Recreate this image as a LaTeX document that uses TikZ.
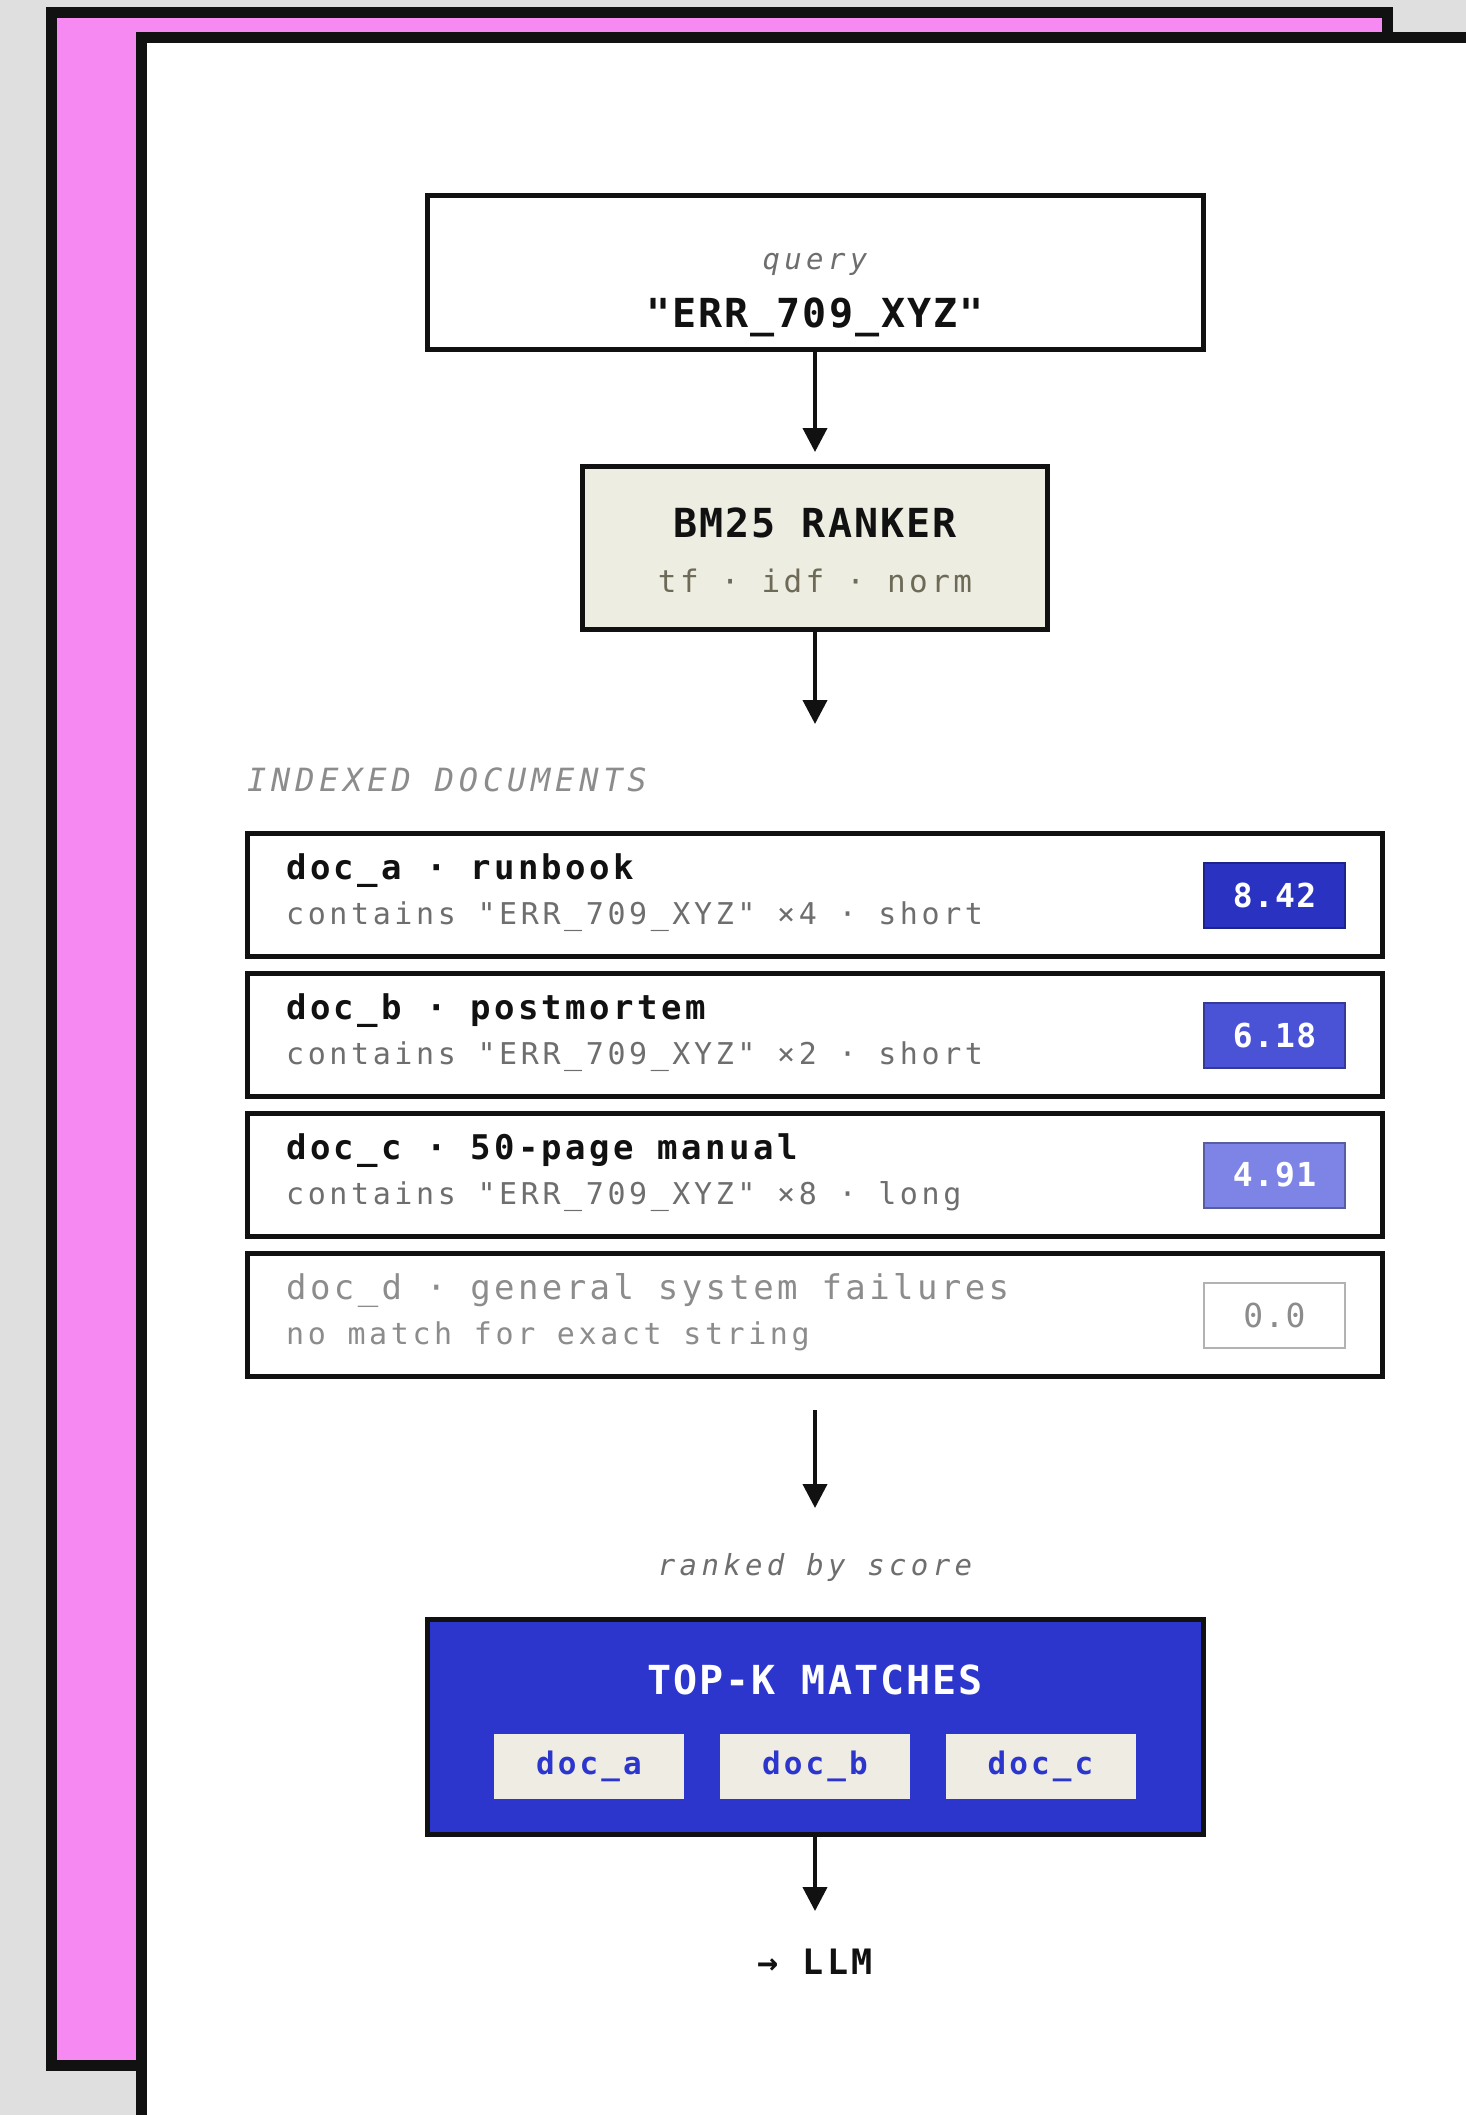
\documentclass[tikz,border=0pt]{standalone}
\usepackage{fontspec}
\usepackage{xcolor}
\usetikzlibrary{arrows.meta,positioning}
\setmonofont{DejaVu Sans Mono}
\newfontfamily\monohead[LetterSpace=5]{DejaVu Sans Mono}
\newfontfamily\monotitle[LetterSpace=10]{DejaVu Sans Mono}
\newfontfamily\monorow[LetterSpace=12]{DejaVu Sans Mono}
\newfontfamily\monowide[LetterSpace=15]{DejaVu Sans Mono}
\newfontfamily\monotag[LetterSpace=9]{DejaVu Sans Mono}
\newfontfamily\monoterm[LetterSpace=11]{DejaVu Sans Mono}
\newfontfamily\monotight[LetterSpace=4]{DejaVu Sans Mono}
\definecolor{canvas}{HTML}{DFDFDF}
\definecolor{shadow}{HTML}{F68AF2}
\definecolor{ink}{HTML}{111111}
\definecolor{muted}{HTML}{6E6E6E}
\definecolor{faint}{HTML}{8C8C8C}
\definecolor{paper}{HTML}{EEEDE1}
\definecolor{chip}{HTML}{EFEDE3}
\definecolor{brown}{HTML}{6E6A58}
\definecolor{topk}{HTML}{2D36CC}
\definecolor{scoreA}{HTML}{2A32C2}
\definecolor{scoreB}{HTML}{4A53D6}
\definecolor{scoreC}{HTML}{7D84E6}

\begin{document}
\begin{tikzpicture}[
    x=1pt, y=-1pt,
    box/.style={draw=ink, line width=5pt, fill=white, inner sep=0pt},
    rowbox/.style={box, minimum width=1135pt, minimum height=123pt},
    badge/.style={draw=#1!70!black, line width=2pt, fill=#1, minimum width=141pt, minimum height=65pt,
        inner sep=0pt, text=white, font=\monotight\bfseries\fontsize{33}{40}\selectfont},
    chipbox/.style={fill=chip, minimum width=190pt, minimum height=65pt, inner sep=0pt,
        text height=23pt, text depth=8pt, text=topk, font=\monotitle\bfseries\fontsize{31}{37}\selectfont},
    heading/.style={font=\monohead\bfseries\fontsize{40}{48}\selectfont, text=ink, inner sep=0pt},
    whisper/.style={font=\monowide\itshape\fontsize{29}{35}\selectfont, text=muted, inner sep=0pt},
    caption/.style={font=\monowide\itshape\fontsize{32}{38}\selectfont, text=faint, inner sep=0pt},
    rowtitle/.style={font=\monotitle\bfseries\fontsize{34}{41}\selectfont, text=ink, inner sep=0pt, anchor=base west},
    rowsub/.style={font=\monorow\fontsize{30}{36}\selectfont, text=muted, inner sep=0pt, anchor=base west},
    arrow/.style={-{Triangle[width=24pt,length=24pt]}, draw=ink, line width=4pt}
]

% Canvas: grey page, pink offset panel, white card (runs off right and bottom).
\useasboundingbox (0,0) rectangle (1466,2115);
\fill[canvas] (0,0) rectangle (1466,2115);
\draw[ink, line width=11pt, fill=shadow] (51.5,12.5) rectangle (1387.5,2065.5);
\draw[ink, line width=11pt, fill=white] (141.5,37.5) rectangle (1530,2200);

% Query.
\node[box, minimum width=776pt, minimum height=154pt] (query) at (815,272.5) {};
\node[whisper, anchor=base] (querytag) at (815,269) {query};
\node[heading, anchor=base] (querystr) at (815,327) {"ERR\_709\_XYZ"};

% Ranker.
\node[box, fill=paper, minimum width=465pt, minimum height=163pt] (ranker) at (815,548) {};
\node[heading, anchor=base] (rankername) at (815,537) {BM25 RANKER};
\node[font=\monoterm\fontsize{31}{37}\selectfont, text=brown, inner sep=0pt, anchor=base]
    (rankerterms) at (815,592) {tf · idf · norm};

\draw[arrow, shorten >=12pt] (query) -- (ranker);
\coordinate (idxtip) at (815,724);
\draw[arrow] (ranker) -- (idxtip);

% Indexed documents.
\node[caption, anchor=base west] (idxlabel) at (247,791) {INDEXED DOCUMENTS};

\foreach \row/\yy/\name/\note/\score/\tint in {
    a/895/runbook/{contains "ERR\_709\_XYZ" ×4 · short}/8.42/scoreA,
    b/1035/postmortem/{contains "ERR\_709\_XYZ" ×2 · short}/6.18/scoreB,
    c/1175/50-page manual/{contains "ERR\_709\_XYZ" ×8 · long}/4.91/scoreC} {
    \node[rowbox] (doc\row) at (815,\yy) {};
    \node[rowtitle] (doc\row title) at (286,\yy-16) {doc\_\row{} · \name};
    \node[rowsub] (doc\row note) at (286,\yy+29) {\note};
    \node[badge=\tint] (doc\row score) at (1274.5,\yy) {\score};
}

% No match: greyed out.
\node[rowbox] (docd) at (815,1315) {};
\node[rowtitle, font=\monotitle\fontsize{34}{41}\selectfont, text=faint] (docdtitle) at (286,1299)
    {doc\_d · general system failures};
\node[rowsub, text=faint] (docdnote) at (286,1344) {no match for exact string};
\node[badge=white, text=faint, font=\monotight\fontsize{33}{40}\selectfont] (docdscore) at (1274.5,1315) {0.0};

\coordinate (ranktip) at (815,1508);
\draw[arrow, shorten <=31pt] (docd) -- (ranktip);
\node[whisper, anchor=base] (rankedby) at (815,1575) {ranked by score};

% Top-k result.
\node[box, fill=topk, minimum width=776pt, minimum height=215pt] (topk) at (815,1727) {};
\node[heading, text=white, anchor=base] (topktitle) at (815,1694) {TOP-K MATCHES};
\foreach \row/\xx in {a/589,b/815,c/1040.5}
    \node[chipbox] (chip\row) at (\xx,1766.5) {doc\_\row};

\node[heading, font=\monotag\bfseries\fontsize{35}{42}\selectfont] (llm) at (815,1962) {→ LLM};
\draw[arrow, shorten >=38pt] (topk) -- (llm);

\end{tikzpicture}
\end{document}
